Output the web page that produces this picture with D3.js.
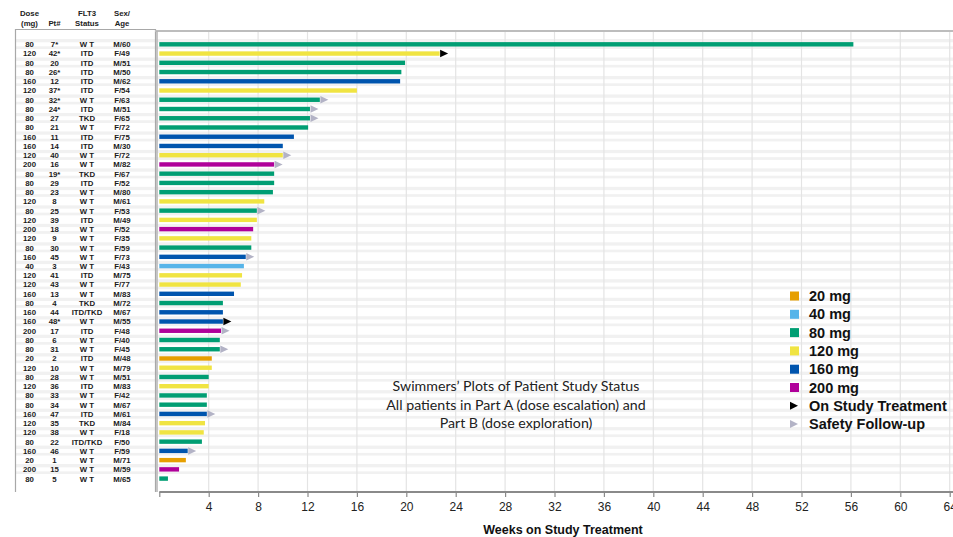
<!DOCTYPE html>
<html><head><meta charset="utf-8">
<script src="https://cdn.jsdelivr.net/npm/d3@7"></script>
<style>body{margin:0;background:#fff}svg{display:block}</style>
</head><body>
<svg id="c" width="953" height="537"></svg>
<script>
const doses = [80,120,80,80,160,120,80,80,80,80,160,160,120,200,80,80,80,120,80,120,200,120,80,160,40,120,120,160,80,160,160,200,80,80,20,120,80,120,80,80,160,120,120,80,160,20,200,80];
const patients = ["7*","42*","20","26*","12","37*","32*","24*","27","21","11","14","40","16","19*","29","23","8","25","39","18","9","30","45","3","41","43","13","4","44","48*","17","6","31","2","10","28","36","33","34","47","35","38","22","46","1","15","5"];
const flt3 = ["W T","ITD","ITD","ITD","ITD","ITD","W T","ITD","TKD","W T","ITD","ITD","W T","W T","TKD","ITD","W T","W T","W T","ITD","W T","W T","W T","W T","W T","ITD","W T","W T","TKD","ITD/TKD","W T","ITD","W T","W T","ITD","W T","W T","ITD","W T","W T","ITD","TKD","W T","ITD/TKD","W T","W T","W T","W T"];
const sexAge = ["M/60","F/49","M/51","M/50","M/62","F/54","F/63","M/51","F/65","F/72","F/75","M/30","F/72","M/82","F/67","F/52","M/80","M/61","F/53","M/49","F/52","F/35","F/59","F/73","F/43","M/75","F/77","M/83","M/72","M/67","M/55","F/48","F/40","F/45","M/48","M/79","M/51","M/83","F/42","M/67","M/61","M/84","F/18","F/50","F/59","M/71","M/59","M/65"];
const weeks = [56.2,22.7,19.9,19.6,19.5,16.0,13.0,12.2,12.2,12.05,10.9,10.0,10.0,9.3,9.3,9.3,9.2,8.5,7.9,7.9,7.6,7.45,7.45,7.0,6.85,6.7,6.6,6.05,5.15,5.15,5.15,5.0,4.9,4.9,4.25,4.25,4.0,4.0,3.85,3.85,3.85,3.7,3.6,3.45,2.3,2.15,1.6,0.7];
// "on" = On Study Treatment, "fu" = Safety Follow-up
const marker = ["","on","","","","","fu","fu","fu","","","","fu","fu","","","","","fu","","","","","fu","","","","","","","on","fu","","fu","","","","","","","fu","","","","fu","","",""];
const doseLevels = [20,40,80,120,160,200];
const doseColors = ["#E69F00","#56B4E9","#009E73","#F0E442","#0055AE","#B0009A"];
const xTicks = [4,8,12,16,20,24,28,32,36,40,44,48,52,56,60,64];
const headers = [["Dose","(mg)"],["","Pt#"],["FLT3","Status"],["Sex/","Age"]];
const colX = [29.5,54.5,87,122];
const titleLines = ["Swimmers\u2019 Plots of Patient Study Status","All patients in Part A (dose escalation) and","Part B (dose exploration)"];

const svg = d3.select("#c");
const x = d3.scaleLinear().domain([0,64]).range([159.3,949.7]);
const y = d3.scaleBand().domain(d3.range(doses.length)).range([39.7,39.7+48*9.24]).padding(0);
const cy = i => y(i)+y.bandwidth()/2;
const color = d3.scaleOrdinal().domain(doseLevels).range(doseColors);
const plotTop = 31, plotBottom = 492;

// row bands
const bands = svg.append("g");
d3.range(doses.length).filter(i=>i%2===0).forEach(i=>{
  bands.append("rect").attr("x",16).attr("width",937).attr("y",cy(i)-5.3).attr("height",10).attr("fill","#f1f1f1");
  bands.append("rect").attr("x",16).attr("width",937).attr("y",cy(i)-2).attr("height",4).attr("fill","#fff");
});

// vertical gridlines
svg.append("g").selectAll("line").data(xTicks).join("line")
  .attr("x1",d=>x(d)).attr("x2",d=>x(d)).attr("y1",plotTop).attr("y2",plotBottom)
  .attr("stroke","#e4e4e4").attr("stroke-width",1.2);

// table box
svg.append("path").attr("d",`M15.5,${plotBottom} V29.5 H155.5 V${plotBottom}`).attr("fill","none").attr("stroke","#a8a8a8").attr("stroke-width",1.2);
svg.append("line").attr("x1",155).attr("x2",953).attr("y1",plotTop).attr("y2",plotTop).attr("stroke","#bdbdbd").attr("stroke-width",2);
svg.append("line").attr("x1",157).attr("x2",157).attr("y1",plotTop).attr("y2",plotBottom).attr("stroke","#b5b5b5").attr("stroke-width",1.5);

// bars
svg.append("g").selectAll("rect").data(weeks).join("rect")
  .attr("x",x(0)).attr("y",(d,i)=>cy(i)-2.2).attr("height",4.4)
  .attr("width",d=>x(d)-x(0)).attr("fill",(d,i)=>color(doses[i]));

// arrows
const tri = (x0,yc,w,h)=>`M${x0},${yc-h/2} L${x0+w},${yc} L${x0},${yc+h/2} Z`;
svg.append("g").selectAll("path").data(d3.range(doses.length).filter(i=>marker[i])).join("path")
  .attr("d",i=>tri(x(weeks[i])+0.5,cy(i),8,7.5))
  .attr("fill",i=>marker[i]==="on"?"#000":"#b3b3c6");

// x axis
const axis = svg.append("g").attr("transform",`translate(0,${plotBottom})`)
  .call(d3.axisBottom(x).tickValues([0].concat(xTicks)).tickSize(5).tickFormat(d=>d===0?"":d));
axis.select(".domain").attr("stroke","#8a8a8a").attr("stroke-width",2).attr("d",`M${x(0)},0H953`);
axis.selectAll(".tick line").attr("stroke","#8a8a8a").attr("stroke-width",1.2);
axis.selectAll(".tick text").attr("font-family","Liberation Sans, Arial, sans-serif").attr("font-size",12).attr("fill","#222").attr("dy","0.9em");
svg.append("text").attr("x",563).attr("y",534).attr("text-anchor","middle")
  .attr("font-family","Liberation Sans, Arial, sans-serif").attr("font-weight","bold").attr("font-size",12.5).attr("fill","#111")
  .text("Weeks on Study Treatment");

// table headers
const tf = "Liberation Sans, Arial, sans-serif";
headers.forEach((h,j)=>{
  h.forEach((t,k)=>{ if(t) svg.append("text").attr("x",colX[j]).attr("y",15.5+k*10).attr("text-anchor","middle")
    .attr("font-family",tf).attr("font-weight","bold").attr("font-size",7.8).attr("fill","#222").text(t); });
});
// table rows
const cols = [doses,patients,flt3,sexAge];
const tg = svg.append("g").attr("font-family",tf).attr("font-weight","bold").attr("font-size",7.8).attr("fill","#1a1a1a").attr("text-anchor","middle");
cols.forEach((arr,j)=>{
  tg.append("g").selectAll("text").data(arr).join("text")
    .attr("x",colX[j]).attr("y",(d,i)=>cy(i)+2.9).text(d=>d);
});

// title text
svg.append("g").selectAll("text").data(titleLines).join("text")
  .attr("x",516).attr("y",(d,i)=>391+i*18.5).attr("text-anchor","middle")
  .attr("font-family","Lato, Open Sans, sans-serif").attr("font-size",14.2).attr("fill","#222").text(d=>d);

// legend
const lg = svg.append("g").attr("font-family",tf).attr("font-weight","bold").attr("font-size",14.5).attr("fill","#111");
const ly = i => 296 + i*18.3;
doseLevels.forEach((d,i)=>{
  lg.append("rect").attr("x",790).attr("y",ly(i)-4.5).attr("width",9).attr("height",9).attr("fill",color(d));
  lg.append("text").attr("x",809).attr("y",ly(i)+5).text(d+" mg");
});
[["On Study Treatment","#000"],["Safety Follow-up","#b3b3c6"]].forEach((m,k)=>{
  const i = 6+k;
  lg.append("path").attr("d",tri(790,ly(i),8,8)).attr("fill",m[1]);
  lg.append("text").attr("x",809).attr("y",ly(i)+5).text(m[0]);
});
</script>
</body></html>
